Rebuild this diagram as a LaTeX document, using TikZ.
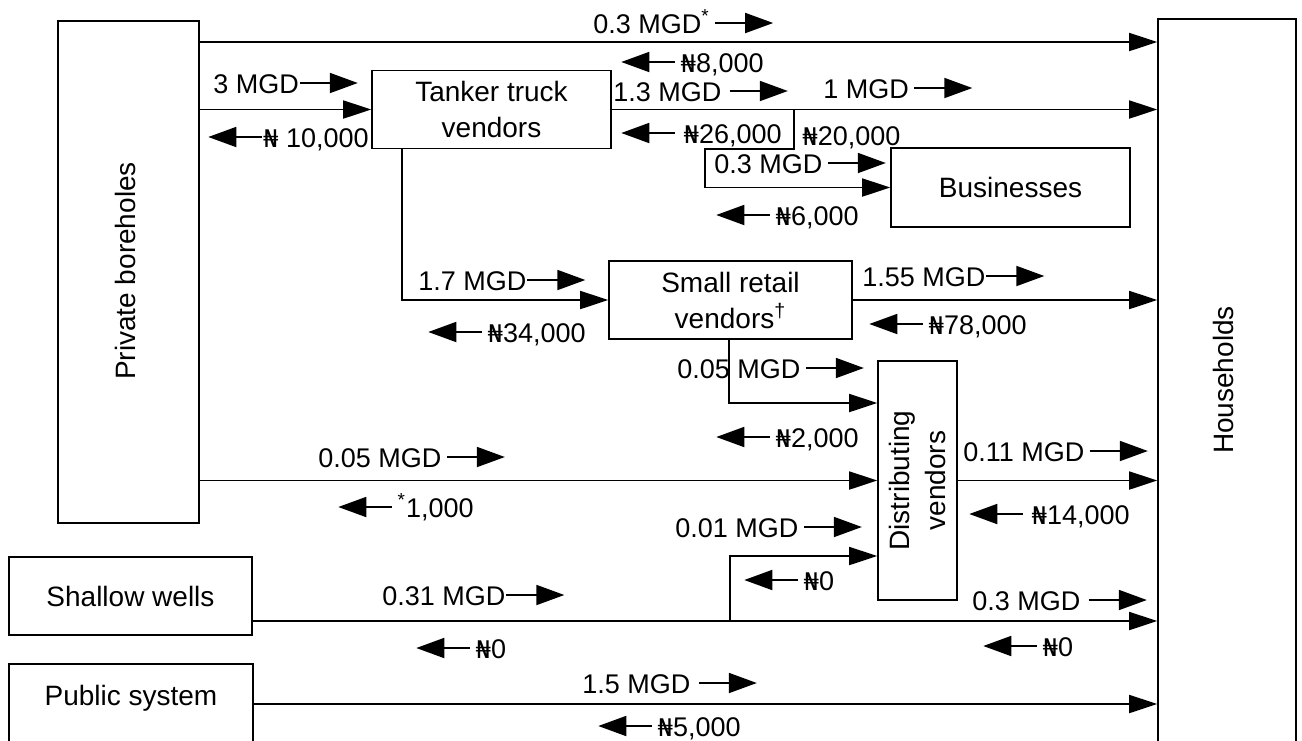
\documentclass[tikz,border=0pt]{standalone}
\usepackage{fontspec}
\usepackage{graphicx}
\setmainfont{Liberation Sans}
\newfontfamily\dejavufont[Scale=0.9]{DejaVu Sans}
\usetikzlibrary{arrows.meta}
\newcommand\naira{{\dejavufont ₦}}
\newcommand\rarr{\tikz[baseline=-5pt]\draw[line width=0.9pt,-{Triangle[length=14pt,width=10pt]}] (0pt,0pt) -- (29pt,0pt);}
\newcommand\larr{\tikz[baseline=-5pt]\draw[line width=0.9pt,{Triangle[length=14pt,width=10pt]}-] (0pt,0pt) -- (27pt,0pt);}
\begin{document}
\begin{tikzpicture}[x=0.5pt,y=-0.5pt,font=\fontsize{14}{18}\selectfont,
  box/.style={draw,line width=0.8pt,inner sep=0pt,align=center},
  boxtext/.style={inner sep=0pt,align=center},
  flow/.style={line width=0.9pt,-{Triangle[length=14pt,width=9pt]}},
  lbl/.style={anchor=base west,inner sep=0pt,yshift=-5pt,font=\fontsize{13.5}{16}\selectfont}]
\useasboundingbox (0,0) rectangle (1302,740);

% boxes
\node[box,minimum width=70.5pt,minimum height=251pt] (pb) at (128.5,272) {};
\node[boxtext,rotate=90] (pbt) at (125,271) {Private boreholes};
\node[box,minimum width=69pt,minimum height=362pt] (hh) at (1227,381) {};
\node[boxtext,rotate=90] (hht) at (1223,380) {Households};
\node[box,minimum width=119.5pt,minimum height=39pt] (tt) at (491.5,109.5) {Tanker truck\\vendors};
\node[box,minimum width=119.5pt,minimum height=39.5pt] (bu) at (1010.5,187.5) {Businesses};
\node[box,minimum width=121.5pt,minimum height=39pt] (sr) at (730.5,300) {Small retail\\vendors\textsuperscript{†}};
\node[box,minimum width=39.5pt,minimum height=119.5pt] (dv) at (917.5,480.5) {};
\node[boxtext,rotate=90] (dvt) at (917.5,480.5) {Distributing\\vendors};
\node[box,minimum width=121.5pt,minimum height=39pt] (sw) at (130.5,596) {Shallow wells};
\node[box,minimum width=122pt,minimum height=40pt] (ps) at (131,704) {};
\node[boxtext] (pst) at (131,698) {Public system};

% helper coordinates
\coordinate (x402) at (402,0);
\coordinate (x705) at (705,0);
\coordinate (x729) at (729,0);
\coordinate (x730) at (730,0);
\coordinate (x794) at (794,0);
\coordinate (y42) at (0,42);
\coordinate (y149) at (0,149);
\coordinate (y403) at (0,403);
\coordinate (y556) at (0,556);
\coordinate (y621) at (0,621);

% connectors
\draw[flow] (pb.east |- y42) -- (hh.west |- y42);
\draw[flow] (pb.east |- tt.west) -- (tt.west);
\draw[flow] (tt.east) -- (hh.west |- tt.east);
\draw[flow] (tt.east -| x794) |- (x705 |- y149) |- (bu.west);
\draw[flow] (tt.south -| x402) |- (sr.west);
\draw[flow] (sr.east) -- (hh.west |- sr.east);
\draw[flow] (sr.south -| x729) |- (dv.west |- y403);
\draw[flow] (pb.east |- dv.west) -- (dv.west);
\draw[flow] (dv.east) -- (hh.west |- dv.east);
\draw[flow] (sw.east |- y621) -- (hh.west |- y621);
\draw[flow] (x730 |- y621) |- (dv.west |- y556);
\draw[flow] (ps.east) -- (hh.west |- ps.east);

% labels
\node[lbl] (l1) at (593,23) {0.3 MGD\textsuperscript{*}\,\rarr};
\node[lbl] (l2) at (620,62) {\larr\,\naira8,000};
\node[lbl] (l3) at (213,83) {3 MGD\rarr};
\node[lbl] (l4) at (207,137) {\larr\naira\ 10,000};
\node[lbl] (l5) at (613,91) {1.3 MGD\ \rarr};
\node[lbl] (l6) at (823,88) {1 MGD\,\rarr};
\node[lbl] (l7) at (620,133) {\larr\ \naira26,000};
\node[lbl] (l8) at (802,135) {\naira20,000};
\node[lbl] (l9) at (714,163) {0.3 MGD\,\rarr};
\node[lbl] (l10) at (715,215) {\larr\,\naira6,000};
\node[lbl] (l11) at (418,280) {1.7 MGD\rarr};
\node[lbl] (l12) at (427,332) {\larr\,\naira34,000};
\node[lbl] (l13) at (862,276) {1.55 MGD\rarr};
\node[lbl] (l14) at (868,324) {\larr\,\naira78,000};
\node[lbl] (l15) at (677,368) {0.05 MGD\,\rarr};
\node[lbl] (l16) at (715,437) {\larr\,\naira2,000};
\node[lbl] (l17) at (318,457) {0.05 MGD\,\rarr};
\node[lbl] (l18) at (337,507) {\larr\,\textsuperscript{*}1,000};
\node[lbl] (l19) at (963,451) {0.11 MGD\,\rarr};
\node[lbl] (l20) at (968,514) {\larr\ \naira14,000};
\node[lbl] (l21) at (675,527) {0.01 MGD\,\rarr};
\node[lbl] (l22) at (743,580) {\larr\,\naira0};
\node[lbl] (l23) at (382,595) {0.31 MGD\rarr};
\node[lbl] (l24) at (415,648) {\larr\,\naira0};
\node[lbl] (l25) at (972,600) {0.3 MGD\ \rarr};
\node[lbl] (l26) at (982,646) {\larr\,\naira0};
\node[lbl] (l27) at (582,683) {1.5 MGD\ \rarr};
\node[lbl] (l28) at (597,726) {\larr\,\naira5,000};
\end{tikzpicture}
\end{document}
